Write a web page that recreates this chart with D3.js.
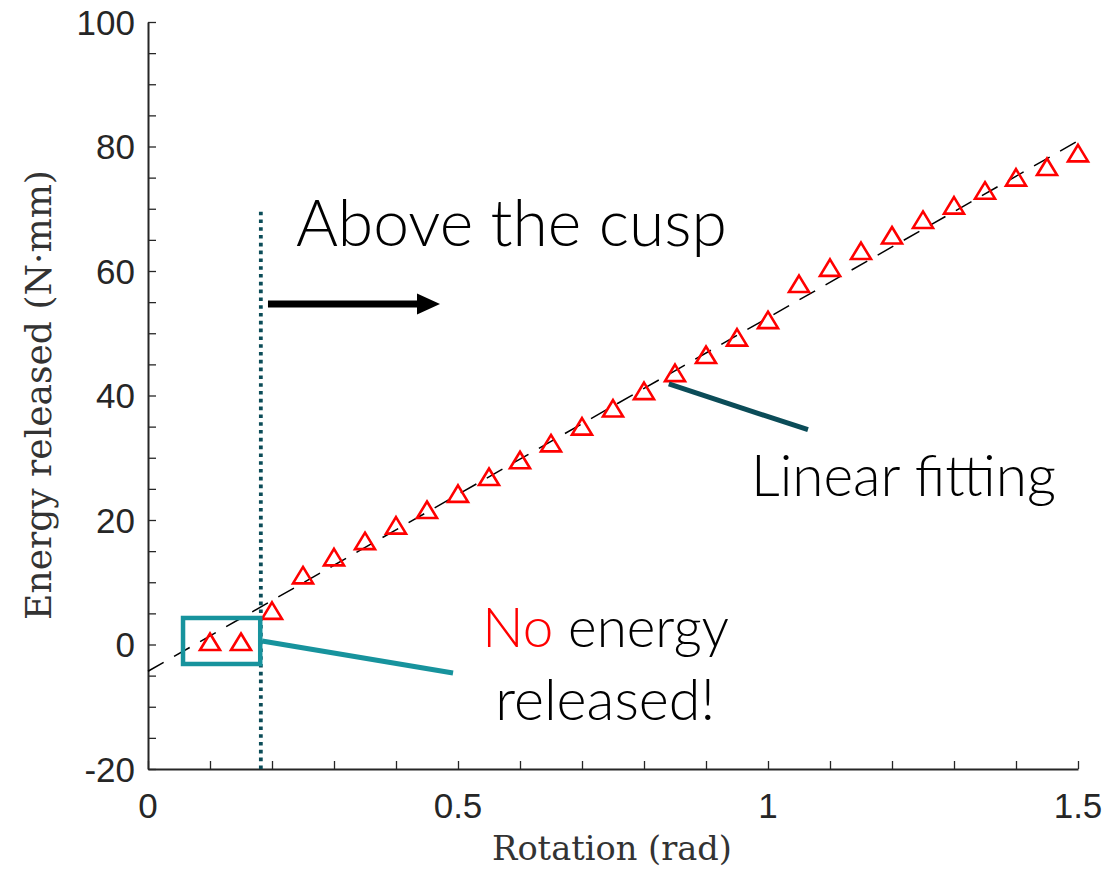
<!DOCTYPE html>
<html>
<head>
<meta charset="utf-8">
<script src="https://cdn.jsdelivr.net/npm/d3@7"></script>
<style>
  html, body { margin: 0; padding: 0; background: #fff; }
  svg { display: block; }
</style>
</head>
<body>
<svg id="chart" width="1120" height="873"></svg>
<script>
// Measured rotation (rad) and released energy (N·mm)
const rotation = [0.10, 0.15, 0.20, 0.25, 0.30, 0.35, 0.40, 0.45, 0.50, 0.55,
                  0.60, 0.65, 0.70, 0.75, 0.80, 0.85, 0.90, 0.95, 1.00, 1.05,
                  1.10, 1.15, 1.20, 1.25, 1.30, 1.35, 1.40, 1.45, 1.50];
const energy = [0.0, 0.0, 5.0, 10.7, 13.6, 16.2, 18.7, 21.2, 23.8, 26.5,
                29.2, 31.9, 34.6, 37.5, 40.3, 43.2, 46.1, 48.9, 51.7, 57.5,
                60.1, 62.8, 65.3, 67.8, 70.1, 72.5, 74.6, 76.3, 78.5];

// Linear fit end points
const fitRotation = [0.0, 1.5];
const fitEnergy = [-4.3, 80.9];

// Axis ticks
const xTickValues = [0, 0.5, 1, 1.5];
const xTickLabels = ["0", "0.5", "1", "1.5"];
const xMinorTicks = d3.range(0, 16).map(i => i / 10);
const yTickValues = [-20, 0, 20, 40, 60, 80, 100];
const yTickLabels = ["-20", "0", "20", "40", "60", "80", "100"];
const yMinorTicks = d3.range(-20, 101, 5);

// Cusp rotation
const cuspRotation = 0.182;

const svg = d3.select("#chart");
const W = 1120, H = 873;
const margin = { left: 148, right: 42, top: 22, bottom: 104 };

const x = d3.scaleLinear().domain([0, 1.5]).range([margin.left, W - margin.right]);
const y = d3.scaleLinear().domain([-20, 100]).range([H - margin.bottom, margin.top]);

svg.append("rect").attr("width", W).attr("height", H).attr("fill", "#fff");

const axisColor = "#262626";
const tickFont = "'Liberation Sans', Arial, Helvetica, sans-serif";
const serifFont = "'DejaVu Serif', 'Liberation Serif', serif";
const noteFont = "Lato, 'Open Sans', 'Noto Sans', sans-serif";

function fitText(sel, target) {
  const node = sel.node();
  const fs = parseFloat(sel.attr("font-size"));
  const w = node.getComputedTextLength();
  sel.attr("font-size", fs * target / w);
}

// ---- axes ----
const xAxis = d3.axisBottom(x).tickValues(xMinorTicks).tickSizeInner(-8).tickSizeOuter(0).tickFormat("");
const yAxis = d3.axisLeft(y).tickValues(yMinorTicks).tickSizeInner(-8).tickSizeOuter(0).tickFormat("");

const gx = svg.append("g").attr("transform", `translate(0,${y(-20)})`).call(xAxis);
const gy = svg.append("g").attr("transform", `translate(${x(0)},0)`).call(yAxis);
[gx, gy].forEach(g => {
  g.select(".domain").attr("stroke", axisColor).attr("stroke-width", 2);
  g.selectAll(".tick line").attr("stroke", axisColor).attr("stroke-width", 1.3);
});

// tick labels
svg.append("g").selectAll("text").data(xTickValues).join("text")
  .attr("x", d => x(d)).attr("y", y(-20) + 49)
  .attr("text-anchor", "middle")
  .attr("font-family", tickFont).attr("font-size", 35).attr("fill", axisColor)
  .text((d, i) => xTickLabels[i]);

svg.append("g").selectAll("text").data(yTickValues).join("text")
  .attr("x", x(0) - 13).attr("y", d => y(d))
  .attr("dy", "0.36em")
  .attr("text-anchor", "end")
  .attr("font-family", tickFont).attr("font-size", 35).attr("fill", axisColor)
  .text((d, i) => yTickLabels[i]);

// axis titles
const xTitle = svg.append("text")
  .attr("x", 612).attr("y", 860)
  .attr("text-anchor", "middle")
  .attr("font-family", serifFont).attr("font-size", 30).attr("fill", "#333")
  .text("Rotation (rad)");
fitText(xTitle, 240);

const yTitle = svg.append("text")
  .attr("transform", `translate(51,395) rotate(-90)`)
  .attr("text-anchor", "middle")
  .attr("font-family", serifFont).attr("font-size", 30).attr("fill", "#333")
  .text("Energy released (N·mm)");
fitText(yTitle, 450);

// ---- linear fit (dashed) ----
const line = d3.line().x(d => x(d[0])).y(d => y(d[1]));
svg.append("path")
  .datum(fitRotation.map((r, i) => [r, fitEnergy[i]]))
  .attr("d", line)
  .attr("fill", "none").attr("stroke", "#000").attr("stroke-width", 1.5)
  .attr("stroke-dasharray", "18,12");

// ---- cusp marker ----
svg.append("line")
  .attr("x1", x(cuspRotation)).attr("x2", x(cuspRotation))
  .attr("y1", y(-20)).attr("y2", y(69.5))
  .attr("stroke", "#0b4c58").attr("stroke-width", 3.8)
  .attr("stroke-dasharray", "3.6,4.2");

// ---- data markers (open triangles) ----
const tw = 20, th = 16.5;
const triPath = `M0,${-2 * th / 3}L${tw / 2},${th / 3}L${-tw / 2},${th / 3}Z`;
svg.append("g").selectAll("path").data(rotation).join("path")
  .attr("transform", (d, i) => `translate(${x(d)},${y(energy[i])})`)
  .attr("d", triPath)
  .attr("fill", "none").attr("stroke", "#ff0000").attr("stroke-width", 2.6)
  .attr("stroke-linejoin", "miter");

// ---- annotations ----
// arrow
const arrowY = y(54.7);
const ax0 = x(0.1935), ax1 = x(0.471);
svg.append("line")
  .attr("x1", ax0).attr("x2", ax1 - 18).attr("y1", arrowY).attr("y2", arrowY)
  .attr("stroke", "#000").attr("stroke-width", 7);
svg.append("path")
  .attr("d", `M${ax1},${arrowY}L${ax1 - 23},${arrowY - 10.5}L${ax1 - 23},${arrowY + 10.5}Z`)
  .attr("fill", "#000");

const above = svg.append("text")
  .attr("x", x(0.2387)).attr("y", y(64.0))
  .attr("font-family", noteFont).attr("font-weight", 300)
  .attr("font-size", 60).attr("fill", "#000")
  .text("Above the cusp");
fitText(above, 431);

// box round the zero-energy points
const boxColor = "#17939d";
svg.append("rect")
  .attr("x", x(0.0565)).attr("y", y(4.26))
  .attr("width", x(0.181) - x(0.0565)).attr("height", y(-3.13) - y(4.26))
  .attr("fill", "none").attr("stroke", boxColor).attr("stroke-width", 4.5);
svg.append("line")
  .attr("x1", x(0.184)).attr("y1", y(0.56))
  .attr("x2", x(0.492)).attr("y2", y(-4.58))
  .attr("stroke", boxColor).attr("stroke-width", 5);

const noEnergy = svg.append("text")
  .attr("x", x(0.539)).attr("y", y(-0.4))
  .attr("font-family", noteFont).attr("font-weight", 300)
  .attr("font-size", 52).attr("fill", "#000");
noEnergy.append("tspan").attr("fill", "#ff0000").text("No");
noEnergy.append("tspan").text(" energy");
fitText(noEnergy, 247);

const released = svg.append("text")
  .attr("x", x(0.560)).attr("y", y(-12.2))
  .attr("font-family", noteFont).attr("font-weight", 300)
  .attr("font-size", 52).attr("fill", "#000")
  .text("released!");
fitText(released, 220);

// leader to the fitted line
svg.append("line")
  .attr("x1", x(0.840)).attr("y1", y(41.85))
  .attr("x2", x(1.0645)).attr("y2", y(34.5))
  .attr("stroke", "#0b4c58").attr("stroke-width", 5);

const linFit = svg.append("text")
  .attr("x", x(0.9726)).attr("y", y(23.86))
  .attr("font-family", noteFont).attr("font-weight", 300)
  .attr("font-size", 52).attr("fill", "#000")
  .text("Linear fitting");
fitText(linFit, 305);
</script>
</body>
</html>
